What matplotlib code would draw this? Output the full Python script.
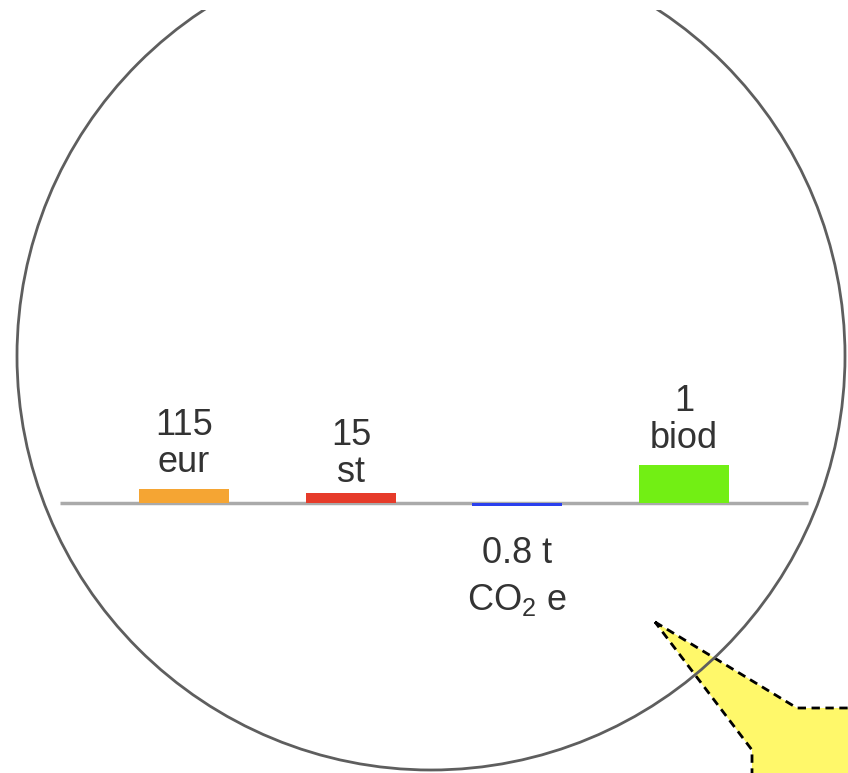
import matplotlib
matplotlib.use("Agg")
import matplotlib.pyplot as plt
from matplotlib.patches import Circle, Polygon, Rectangle

plt.rcParams['font.family'] = ['Liberation Sans', 'DejaVu Sans']
plt.rcParams['mathtext.fontset'] = 'custom'
plt.rcParams['mathtext.rm'] = 'Liberation Sans'
plt.rcParams['mathtext.default'] = 'regular'

# данные: высоты столбиков (пиксели над базовой линией) и подписи
values = [14, 10, -3, 38]
numbers = ["115", "15", "0.8 t", "1"]
units = ["eur", "st", "CO$_2$ e", "biod"]
colors = ["#f5a533", "#e63b2a", "#2b40ee", "#72ef14"]

W, H = 848, 773
BASE = 270          # базовая линия (y вверх)
x_pos = [184, 351, 517, 684]
bar_w = 90
FS = 26

fig = plt.figure(figsize=(W / 100, H / 100), dpi=100)
ax = fig.add_axes([0, 0, 1, 1])
ax.set_xlim(0, W)
ax.set_ylim(0, H)
ax.axis("off")

# выноска
callout = Polygon([(655, H - 622), (797, H - 708), (870, H - 708), (870, -20),
                   (752, -20), (752, H - 750)],
                  closed=True, facecolor="#fff86a", edgecolor="black",
                  linewidth=2, linestyle=(0, (3, 2)), zorder=1)
ax.add_patch(callout)

# круг, обрезанный сверху
circ = Circle((431, H - 356), 414, fill=False, edgecolor="#5e5e5e",
              linewidth=2.0, zorder=3)
ax.add_patch(circ)
clip = Rectangle((0, 0), W, H - 10, transform=ax.transData)
circ.set_clip_path(clip)

# базовая линия
ax.plot([60, 808], [BASE, BASE], color="#aaaaaa", linewidth=2.5, zorder=2,
        solid_capstyle="butt")

ax.bar(x_pos, values, width=bar_w, bottom=BASE, color=colors, zorder=2)

# подписи
offsets = [17, 11, 0, 17]
for x, v, num, unit, off in zip(x_pos, values, numbers, units, offsets):
    if v >= 0:
        top = BASE + v + off
        ax.text(x, top, unit, ha="center", va="baseline", fontsize=FS,
                color="#333333")
        ax.text(x, top + 37, num, ha="center", va="baseline", fontsize=FS,
                color="#333333")
    else:
        ax.text(x, H - 563, num, ha="center", va="baseline", fontsize=FS,
                color="#333333")
        ax.text(x, H - 610, unit, ha="center", va="baseline", fontsize=FS,
                color="#333333")

fig.savefig("out.png", dpi=100)
